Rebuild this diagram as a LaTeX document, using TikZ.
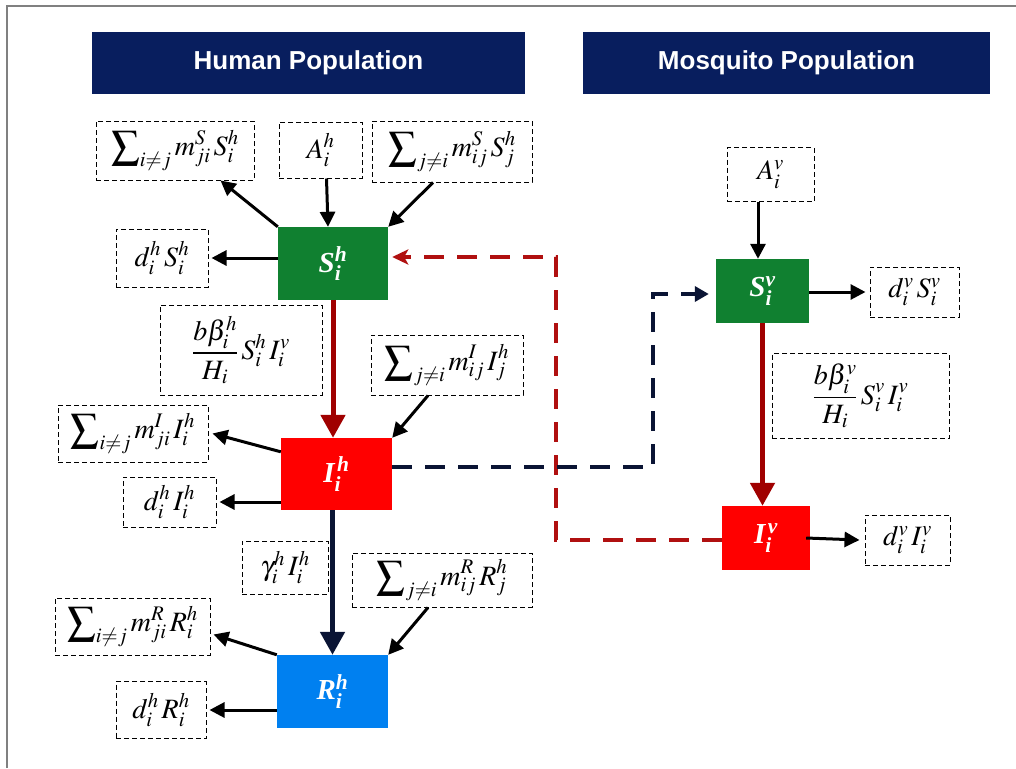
\documentclass[tikz,border=0pt]{standalone}
\usepackage{amsmath}
\usepackage{mathptmx}
\usepackage[no-math]{fontspec}
\setmainfont{Liberation Serif}
\newfontfamily\hdrfont{Liberation Sans}
\usetikzlibrary{arrows.meta}
\definecolor{hdrblue}{RGB}{8,30,94}
\definecolor{sgreen}{RGB}{16,128,48}
\definecolor{ired}{RGB}{255,0,0}
\definecolor{rblue}{RGB}{0,128,240}
\definecolor{arrred}{RGB}{160,0,0}
\definecolor{dashred}{RGB}{176,16,16}
\definecolor{arrnavy}{RGB}{10,20,52}
\definecolor{framegray}{RGB}{128,128,128}
\newcommand{\bi}[1]{\text{\bfseries\itshape #1}}
\newcommand{\bsum}{\displaystyle\sum\nolimits}
\begin{document}
\begin{tikzpicture}[x=1pt,y=-1pt,
  hdr/.style={fill=hdrblue, text=white, inner sep=0pt, font=\hdrfont\bfseries\fontsize{26}{30}\selectfont},
  dbox/.style={draw=black, dash pattern=on 5pt off 3pt, line width=1pt, inner sep=0pt, font=\fontsize{28}{32}\selectfont},
  comp/.style={inner sep=0pt, text=white, font=\fontsize{29}{33}\selectfont},
  arr/.style={draw=black, line width=3pt, -{Triangle[length=15pt,width=15pt]}},
  bigred/.style={draw=arrred, line width=5pt, -{Triangle[length=23pt,width=24pt]}},
  bignavy/.style={draw=arrnavy, line width=5pt, -{Triangle[length=23pt,width=24pt]}},
  reddash/.style={draw=dashred, line width=4pt, dash pattern=on 20pt off 13pt, -{Stealth[length=16pt,width=15pt,inset=4pt]}},
  navydash/.style={draw=arrnavy, line width=4pt, dash pattern=on 20pt off 13pt, -{Triangle[length=14pt,width=15pt]}}
]
\useasboundingbox (0,0) rectangle (1016,768);
\fill[white] (0,0) rectangle (1016,768);
\draw[framegray, line width=2pt] (7,768) -- (7,6) -- (1016,6);

% headers
\node[hdr, minimum width=433pt, minimum height=62pt] (hh) at (308.5,63) {Human Population};
\node[hdr, minimum width=407pt, minimum height=62pt] (hm) at (786.5,63) {Mosquito Population};

% compartments
\node[comp, fill=sgreen, minimum width=110pt, minimum height=73pt] (sh) at (333,263.5) {$\bi{S}_{\bi{i}}^{\bi{h}}$};
\node[comp, fill=ired, minimum width=111pt, minimum height=72pt] (ih) at (336.5,474) {$\bi{I}_{\bi{i}}^{\,\bi{h}}$};
\node[comp, fill=rblue, minimum width=111pt, minimum height=73pt] (rh) at (332.5,691.5) {$\bi{R}_{\bi{i}}^{\bi{h}}$};
\node[comp, fill=sgreen, minimum width=93pt, minimum height=64pt] (sv) at (762.5,291) {$\bi{S}_{\bi{i}}^{\bi{v}}$};
\node[comp, fill=ired, minimum width=88pt, minimum height=64pt] (iv) at (766,538) {$\bi{I}_{\bi{i}}^{\,\bi{v}}$};

% dashed label boxes
\node[dbox, minimum width=158pt, minimum height=59pt] (b1) at (175,150.5) {$\bsum_{i\neq j} m_{ji}^{S}\, S_i^{h}$};
\node[dbox, minimum width=83pt, minimum height=56pt] (b2) at (320.5,150) {$A_i^{h}$};
\node[dbox, minimum width=160pt, minimum height=61pt] (b3) at (452,151.5) {$\bsum_{j\neq i} m_{ij}^{S}\, S_j^{h}$};
\node[dbox, minimum width=92pt, minimum height=58pt] (b4) at (162,258) {$d_i^{h}\, S_i^{h}$};
\node[dbox, minimum width=162pt, minimum height=90pt] (b5) at (241,350) {$\displaystyle\frac{b\beta_i^{h}}{H_i}\, S_i^{h}\, I_i^{v}$};
\node[dbox, minimum width=152pt, minimum height=60pt] (b6) at (447,365) {$\bsum_{j\neq i} m_{ij}^{I}\, I_j^{h}$};
\node[dbox, minimum width=150pt, minimum height=57pt] (b7) at (133,433.5) {$\bsum_{i\neq j} m_{ji}^{I}\, I_i^{h}$};
\node[dbox, minimum width=93pt, minimum height=50pt] (b8) at (169.5,502) {$d_i^{h}\, I_i^{h}$};
\node[dbox, minimum width=86pt, minimum height=53pt] (b9) at (285,567.5) {$\gamma_i^{h}\, I_i^{h}$};
\node[dbox, minimum width=180pt, minimum height=54pt] (b10) at (442,580) {$\bsum_{j\neq i} m_{ij}^{R}\, R_j^{h}$};
\node[dbox, minimum width=155pt, minimum height=57pt] (b11) at (132.5,626.5) {$\bsum_{i\neq j} m_{ji}^{R}\, R_i^{h}$};
\node[dbox, minimum width=90pt, minimum height=57pt] (b12) at (161,710) {$d_i^{h}\, R_i^{h}$};
\node[dbox, minimum width=87pt, minimum height=54pt] (b13) at (770.5,174.5) {$A_i^{v}$};
\node[dbox, minimum width=89pt, minimum height=50pt] (b14) at (914.5,292) {$d_i^{v}\, S_i^{v}$};
\node[dbox, minimum width=177pt, minimum height=85pt] (b15) at (860.5,396) {$\displaystyle\frac{b\beta_i^{v}}{H_i}\, S_i^{v}\, I_i^{v}$};
\node[dbox, minimum width=85pt, minimum height=50pt] (b16) at (907.5,540) {$d_i^{v}\, I_i^{v}$};

% human arrows
\draw[arr] (sh.north west) -- ([xshift=-34pt]b1.south east);
\draw[arr] ([xshift=6pt]b2.south) -- ([xshift=-5pt]sh.north);
\draw[arr] ([xshift=-19pt]b3.south) -- (sh.north east);
\draw[arr] (sh.west |- b4.east) -- ([xshift=3pt]b4.east);
\draw[bigred] (sh.south) -- (sh.south |- ih.north);
\draw[arr] ([xshift=-19pt]b6.south) -- (ih.north east);
\draw[arr] ([yshift=-14pt]ih.north west) -- ([xshift=4pt]b7.east);
\draw[arr] (ih.west |- b8.east) -- ([xshift=3pt]b8.east);
\draw[bignavy] (rh.north |- ih.south) -- (rh.north);
\draw[arr] ([xshift=-14pt]b10.south) -- (rh.north east);
\draw[arr] (rh.north west) -- ([xshift=3pt,yshift=-8pt]b11.east);
\draw[arr] (rh.west |- b12.east) -- ([xshift=3pt]b12.east);

% mosquito arrows
\draw[arr] ([xshift=-12.5pt]b13.south) -- ([xshift=-4.5pt]sv.north);
\draw[arr] (sv.east |- b14.west) -- ([xshift=-4pt]b14.west);
\draw[bigred] (sv.south) -- (sv.south |- iv.north);
\draw[arr] ([xshift=-4pt]iv.east) -- ([xshift=-5pt]b16.west);

% cross infection
\coordinate (rc) at (556,257);
\coordinate (nc) at (653,467);
\coordinate (nc2) at (653,294);
\draw[reddash] ([yshift=-2pt]iv.west) -| (rc) -- ([xshift=4pt]sh.east |- rc);
\draw[navydash] (ih.east |- nc) -- (nc) -- (nc2) -- ([xshift=-7pt]sv.west |- nc2);
\end{tikzpicture}
\end{document}
